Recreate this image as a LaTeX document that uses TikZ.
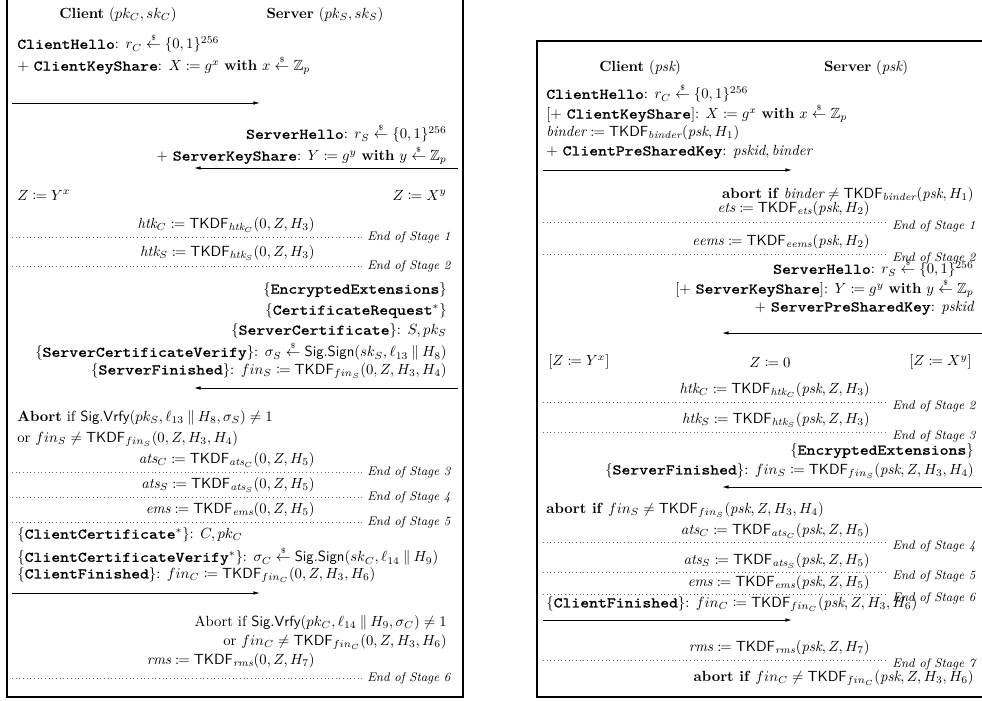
\documentclass[tikz,border=0pt]{standalone}
\usepackage{fontspec}
\usepackage{amsmath,amssymb,mathtools}
\usetikzlibrary{arrows.meta}
\newfontfamily\ttb{lmmono10-regular}[Extension=.otf,FakeBold=1.2,FakeStretch=1.15]
\newcommand{\msgn}[1]{{\ttb #1}}
\newcommand{\tk}{\mathsf{TKDF}}
\newcommand{\smp}{\overset{\scriptscriptstyle\$}{\leftarrow}}
\newcommand{\ceq}{\coloneqq}
\newcommand{\sig}[1]{\mathsf{Sig.#1}}
\tikzset{
  lt/.style={anchor=west,inner sep=0pt},
  rt/.style={anchor=east,inner sep=0pt},
  ct/.style={anchor=center,inner sep=0pt},
  sepline/.style={dotted,line width=0.5pt,black!60},
  eos/.style={anchor=west,inner sep=0pt,font=\fontsize{8.5}{10}\selectfont\itshape},
  msgarrow/.style={-{Latex[length=4.5pt,width=2.4pt]},line width=0.55pt},
  frame/.style={line width=0.8pt}
}
\begin{document}
\begin{tikzpicture}[x=0.68pt,y=-0.68pt]
\useasboundingbox (0,0) rectangle (982,700);
\begin{scope}
\clip (0,0) rectangle (982,700);
\draw[frame] (7,-5) rectangle (463,697);
\draw[frame] (537,41) rectangle (995,697);
\end{scope}
% ---------------- left panel ----------------
\node[ct] (lc) at (118,15) {\textbf{Client} $(pk_C, sk_C)$};
\node[ct] (ls) at (325,15) {\textbf{Server} $(pk_S, sk_S)$};
\node[lt] (lch) at (17,43) {\msgn{ClientHello}: $r_C \smp \{0,1\}^{256}$};
\node[lt] (lcks) at (17,65) {+ \msgn{ClientKeyShare}: $X \ceq g^x$ \textbf{with} $x \smp \mathbb{Z}_p$};
\coordinate (a1s) at (12,103); \coordinate (a1e) at (260,103);
\draw[msgarrow] (a1s) -- (a1e);
\node[rt] (lsh) at (447,133) {\msgn{ServerHello}: $r_S \smp \{0,1\}^{256}$};
\node[rt] (lsks) at (447,155) {+ \msgn{ServerKeyShare}: $Y \ceq g^y$ \textbf{with} $y \smp \mathbb{Z}_p$};
\coordinate (a2s) at (458,168); \coordinate (a2e) at (194,168);
\draw[msgarrow] (a2s) -- (a2e);
\node[lt] (lz1) at (17,195) {$Z \ceq Y^x$};
\node[rt] (lz2) at (447,195) {$Z \ceq X^y$};
\node[rt] (lhc) at (315,225) {$\mathit{htk}_C \ceq \tk_{\mathit{htk}_C}(0,Z,H_3)$};
\coordinate (d1s) at (12,237); \coordinate (d1e) at (362,237);
\draw[sepline] (d1s) -- (d1e);
\node[eos] (e1) at (367,237) {End of Stage 1};
\node[rt] (lhs) at (315,253) {$\mathit{htk}_S \ceq \tk_{\mathit{htk}_S}(0,Z,H_3)$};
\coordinate (d2s) at (12,266); \coordinate (d2e) at (362,266);
\draw[sepline] (d2s) -- (d2e);
\node[eos] (e2) at (367,266) {End of Stage 2};
\node[rt] (lee) at (447,290) {$\{$\msgn{EncryptedExtensions}$\}$};
\node[rt] (lcr) at (447,311) {$\{$\msgn{CertificateRequest}$^*\}$};
\node[rt] (lsc) at (447,331) {$\{$\msgn{ServerCertificate}$\}$: $S, pk_S$};
\node[rt] (lscv) at (447,351) {$\{$\msgn{ServerCertificateVerify}$\}$: $\sigma_S \smp \sig{Sign}(sk_S, \ell_{13} \mathbin{\|} H_8)$};
\node[rt] (lsf) at (447,371) {$\{$\msgn{ServerFinished}$\}$: $fin_S \ceq \tk_{fin_S}(0,Z,H_3,H_4)$};
\coordinate (a3s) at (458,388); \coordinate (a3e) at (194,388);
\draw[msgarrow] (a3s) -- (a3e);
\node[lt] (lab1) at (17,418) {\textbf{Abort} if $\sig{Vrfy}(pk_S, \ell_{13} \mathbin{\|} H_8, \sigma_S) \neq 1$};
\node[lt] (lor1) at (17,439) {or $fin_S \neq \tk_{fin_S}(0,Z,H_3,H_4)$};
\node[rt] (lac) at (315,460) {$\mathit{ats}_C \ceq \tk_{\mathit{ats}_C}(0,Z,H_5)$};
\coordinate (d3s) at (12,472); \coordinate (d3e) at (362,472);
\draw[sepline] (d3s) -- (d3e);
\node[eos] (e3) at (367,472) {End of Stage 3};
\node[rt] (las) at (315,485) {$\mathit{ats}_S \ceq \tk_{\mathit{ats}_S}(0,Z,H_5)$};
\coordinate (d4s) at (12,497); \coordinate (d4e) at (362,497);
\draw[sepline] (d4s) -- (d4e);
\node[eos] (e4) at (367,497) {End of Stage 4};
\node[rt] (lems) at (315,510) {$\mathit{ems} \ceq \tk_{\mathit{ems}}(0,Z,H_5)$};
\coordinate (d5s) at (12,522); \coordinate (d5e) at (362,522);
\draw[sepline] (d5s) -- (d5e);
\node[eos] (e5) at (367,522) {End of Stage 5};
\node[lt] (lcc) at (17,535) {$\{$\msgn{ClientCertificate}$^*\}$: $C, pk_C$};
\node[lt] (lccv) at (17,556) {$\{$\msgn{ClientCertificateVerify}$^*\}$: $\sigma_C \smp \sig{Sign}(sk_C, \ell_{14} \mathbin{\|} H_9)$};
\node[lt] (lcf) at (17,575) {$\{$\msgn{ClientFinished}$\}$: $fin_C \ceq \tk_{fin_C}(0,Z,H_3,H_6)$};
\coordinate (a4s) at (12,593); \coordinate (a4e) at (260,593);
\draw[msgarrow] (a4s) -- (a4e);
\node[rt] (lab2) at (447,623) {Abort if $\sig{Vrfy}(pk_C, \ell_{14} \mathbin{\|} H_9, \sigma_C) \neq 1$};
\node[rt] (lor2) at (447,642) {or $fin_C \neq \tk_{fin_C}(0,Z,H_3,H_6)$};
\node[rt] (lrms) at (315,661) {$\mathit{rms} \ceq \tk_{\mathit{rms}}(0,Z,H_7)$};
\coordinate (d6s) at (12,678); \coordinate (d6e) at (362,678);
\draw[sepline] (d6s) -- (d6e);
\node[eos] (e6) at (367,678) {End of Stage 6};
% ---------------- right panel ----------------
\node[ct] (rc) at (640,68) {\textbf{Client} $(\mathit{psk})$};
\node[ct] (rs) at (866,68) {\textbf{Server} $(\mathit{psk})$};
\node[lt] (rch) at (546,93) {\msgn{ClientHello}: $r_C \smp \{0,1\}^{256}$};
\node[lt] (rcks) at (546,113) {[+ \msgn{ClientKeyShare}]: $X \ceq g^x$ \textbf{with} $x \smp \mathbb{Z}_p$};
\node[lt] (rbi) at (546,133) {$\mathit{binder} \ceq \tk_{\mathit{binder}}(\mathit{psk}, H_1)$};
\node[lt] (rcp) at (546,152) {+ \msgn{ClientPreSharedKey}: $\mathit{pskid}, \mathit{binder}$};
\coordinate (b1s) at (543,170); \coordinate (b1e) at (792,170);
\draw[msgarrow] (b1s) -- (b1e);
\node[rt] (rab) at (974,195) {\textbf{abort if} $\mathit{binder} \neq \tk_{\mathit{binder}}(\mathit{psk}, H_1)$};
\node[rt] (rets) at (870,209) {$\mathit{ets} \ceq \tk_{\mathit{ets}}(\mathit{psk}, H_2)$};
\coordinate (f1s) at (543,222); \coordinate (f1e) at (888,222);
\draw[sepline] (f1s) -- (f1e);
\node[eos] (g1) at (892,226) {End of Stage 1};
\node[rt] (reems) at (870,242) {$\mathit{eems} \ceq \tk_{\mathit{eems}}(\mathit{psk}, H_2)$};
\coordinate (f2s) at (543,254); \coordinate (f2e) at (888,254);
\draw[sepline] (f2s) -- (f2e);
\node[eos] (g2) at (892,258) {End of Stage 2};
\node[rt] (rsh) at (974,268) {\msgn{ServerHello}: $r_S \smp \{0,1\}^{256}$};
\node[rt] (rsks) at (974,288) {[+ \msgn{ServerKeyShare}]: $Y \ceq g^y$ \textbf{with} $y \smp \mathbb{Z}_p$};
\node[rt] (rsp) at (974,308) {+ \msgn{ServerPreSharedKey}: $\mathit{pskid}$};
\coordinate (b2s) at (982,333); \coordinate (b2e) at (722,333);
\draw[msgarrow] (b2s) -- (b2e);
\node[lt] (rz1) at (548,362) {$[Z \ceq Y^x]$};
\node[ct] (rz2) at (770,362) {$Z \ceq 0$};
\node[rt] (rz3) at (972,362) {$[Z \ceq X^y]$};
\node[rt] (rhc) at (870,390) {$\mathit{htk}_C \ceq \tk_{\mathit{htk}_C}(\mathit{psk},Z,H_3)$};
\coordinate (f3s) at (543,402); \coordinate (f3e) at (888,402);
\draw[sepline] (f3s) -- (f3e);
\node[eos] (g3) at (892,406) {End of Stage 2};
\node[rt] (rhs) at (870,420) {$\mathit{htk}_S \ceq \tk_{\mathit{htk}_S}(\mathit{psk},Z,H_3)$};
\coordinate (f4s) at (543,432); \coordinate (f4e) at (888,432);
\draw[sepline] (f4s) -- (f4e);
\node[eos] (g4) at (892,436) {End of Stage 3};
\node[rt] (ree) at (974,451) {$\{$\msgn{EncryptedExtensions}$\}$};
\node[rt] (rsf) at (974,471) {$\{$\msgn{ServerFinished}$\}$: $fin_S \ceq \tk_{fin_S}(\mathit{psk},Z,H_3,H_4)$};
\coordinate (b3s) at (982,487); \coordinate (b3e) at (722,487);
\draw[msgarrow] (b3s) -- (b3e);
\node[lt] (rab2) at (546,510) {\textbf{abort if} $fin_S \neq \tk_{fin_S}(\mathit{psk},Z,H_3,H_4)$};
\node[rt] (rac) at (870,531) {$\mathit{ats}_C \ceq \tk_{\mathit{ats}_C}(\mathit{psk},Z,H_5)$};
\coordinate (f5s) at (543,542); \coordinate (f5e) at (888,542);
\draw[sepline] (f5s) -- (f5e);
\node[eos] (g5) at (892,546) {End of Stage 4};
\node[rt] (ras) at (870,561) {$\mathit{ats}_S \ceq \tk_{\mathit{ats}_S}(\mathit{psk},Z,H_5)$};
\coordinate (f6s) at (543,572); \coordinate (f6e) at (888,572);
\draw[sepline] (f6s) -- (f6e);
\node[eos] (g6) at (892,576) {End of Stage 5};
\node[rt] (rems) at (870,583) {$\mathit{ems} \ceq \tk_{\mathit{ems}}(\mathit{psk},Z,H_5)$};
\coordinate (f7s) at (543,594); \coordinate (f7e) at (888,594);
\draw[sepline] (f7s) -- (f7e);
\node[eos] (g7) at (892,598) {End of Stage 6};
\node[lt] (rcf) at (546,604) {$\{$\msgn{ClientFinished}$\}$: $fin_C \ceq \tk_{fin_C}(\mathit{psk},Z,H_3,H_6)$};
\coordinate (b4s) at (543,620); \coordinate (b4e) at (792,620);
\draw[msgarrow] (b4s) -- (b4e);
\node[rt] (rrms) at (870,648) {$\mathit{rms} \ceq \tk_{\mathit{rms}}(\mathit{psk},Z,H_7)$};
\coordinate (f8s) at (543,660); \coordinate (f8e) at (888,660);
\draw[sepline] (f8s) -- (f8e);
\node[eos] (g8) at (892,664) {End of Stage 7};
\node[rt] (rabf) at (974,678) {\textbf{abort if} $fin_C \neq \tk_{fin_C}(\mathit{psk},Z,H_3,H_6)$};
\end{tikzpicture}
\end{document}
